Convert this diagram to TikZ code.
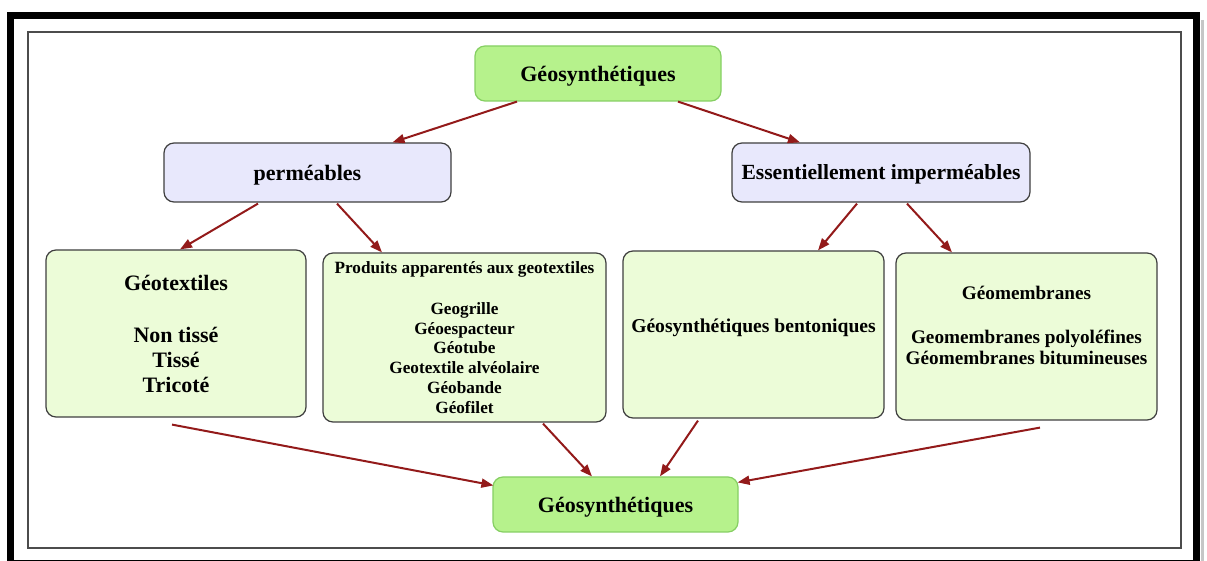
\documentclass[tikz,border=0pt]{standalone}
\usepackage{fontspec}
\setmainfont{Liberation Serif}
\usetikzlibrary{arrows.meta,calc}
\definecolor{arrowred}{HTML}{931A1A}
\definecolor{brightgreen}{HTML}{B6F28C}
\definecolor{brightgreenline}{HTML}{86CF63}
\definecolor{lavender}{HTML}{E8E8FC}
\definecolor{palegreen}{HTML}{ECFCD8}
\definecolor{boxline}{HTML}{3F3F3F}
\newcommand{\lowtext}[1]{\raisebox{-4pt}[0pt][0pt]{#1}}
\tikzset{
  anybox/.style={rounded corners=5pt, inner sep=0pt, align=center, font=\bfseries},
  gbox/.style={anybox, draw=brightgreenline, fill=brightgreen, line width=0.6pt},
  pbox/.style={anybox, draw=boxline, fill=lavender, line width=0.6pt},
  lbox/.style={anybox, draw=boxline, fill=palegreen, line width=0.6pt},
  arr/.style={draw=arrowred, line width=1pt, -{Triangle[length=6pt,width=4.5pt]}}
}
\begin{document}
\begin{tikzpicture}[x=0.5pt,y=-0.5pt]
\useasboundingbox (0,0) rectangle (1207,561);
\fill[white] (0,0) rectangle (1207,561);
% frames
\draw[gray!45, line width=1.5pt] (1202,20) -- (1202,561);
\draw[black, line width=3.5pt] (10.5,15.5) rectangle (1196.5,563.5);
\draw[black!70, line width=1pt] (28,32) rectangle (1181,548);

% nodes
\node[gbox, minimum width=123pt, minimum height=27.5pt, font=\bfseries\fontsize{11}{13}\selectfont] (top) at (598,73.5) {\lowtext{Géosynthétiques}};
\node[pbox, minimum width=143.5pt, minimum height=29.5pt, font=\bfseries\fontsize{11}{13}\selectfont] (perm) at (307.5,172.5) {\lowtext{perméables}};
\node[pbox, minimum width=149pt, minimum height=29.5pt, font=\bfseries\fontsize{10.8}{13}\selectfont] (imp) at (881,172.5) {\raisebox{-3.5pt}[0pt][0pt]{Essentiellement imperméables}};

\node[lbox, minimum width=130pt, minimum height=83.5pt, font=\bfseries\fontsize{11}{12.5}\selectfont] (geotex) at (176,333.5)
  {Géotextiles\\[13.5pt]Non tissé\\Tissé\\Tricoté};
\node[lbox, minimum width=141.5pt, minimum height=84.5pt, font=\bfseries\fontsize{8.6}{9.9}\selectfont] (prod) at (464.5,337.5)
  {Produits apparentés aux geotextiles\\[10.5pt]Geogrille\\Géoespacteur\\Géotube\\Geotextile alvéolaire\\Géobande\\Géofilet};
\node[lbox, minimum width=130.5pt, minimum height=83.5pt, font=\bfseries\fontsize{9.8}{12}\selectfont] (bento) at (753.5,334.5)
  {\raisebox{1pt}[0pt][0pt]{Géosynthétiques bentoniques}};
\node[lbox, minimum width=130.5pt, minimum height=83.5pt, font=\bfseries\fontsize{9.6}{10.5}\selectfont] (geomem) at (1026.5,336.5)
  {Géomembranes\\[11.5pt]Geomembranes polyoléfines\\Géomembranes bitumineuses\\[-2pt]\strut};
\node[gbox, minimum width=122.5pt, minimum height=27.5pt, font=\bfseries\fontsize{11}{13}\selectfont] (bot) at (615.5,504.5) {\lowtext{Géosynthétiques}};

% connectors
\draw[arr] ($(top.south)+(-81,0)$) -- ($(perm.north)+(85,0)$);
\draw[arr] ($(top.south)+(80,0)$) -- ($(imp.north)+(-81,0)$);
\draw[arr] ($(perm.south)+(-49.5,1)$) -- ($(geotex.north)+(4,0)$);
\draw[arr] ($(perm.south)+(29.5,1)$) -- ($(prod.north)+(-82.5,0)$);
\draw[arr] ($(imp.south)+(-24,1)$) -- ($(bento.north)+(64.5,0)$);
\draw[arr] ($(imp.south)+(26,1)$) -- ($(geomem.north)+(-74.5,0)$);
\draw[arr] ($(geotex.south)+(-4,7)$) -- ($(bot.north west)+(1,9)$);
\draw[arr] ($(prod.south)+(78.5,1)$) -- ($(bot.north)+(-23.5,0)$);
\draw[arr] ($(bento.south)+(-55.5,2)$) -- ($(bot.north)+(44.5,0)$);
\draw[arr] ($(geomem.south)+(13.5,7)$) -- ($(bot.north east)+(-1,6)$);
\end{tikzpicture}
\end{document}
